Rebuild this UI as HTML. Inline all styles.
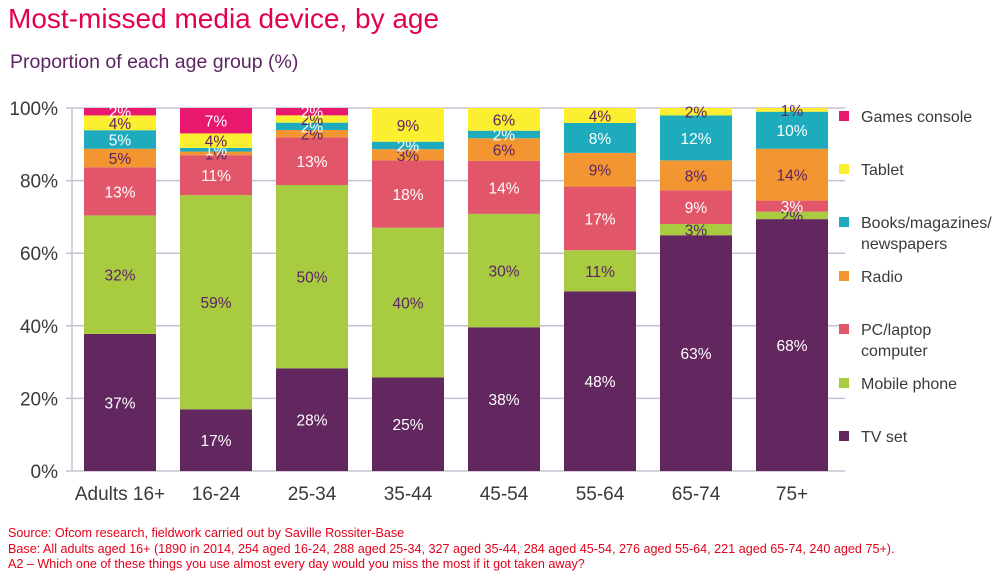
<!DOCTYPE html>
<html><head><meta charset="utf-8"><style>
body{margin:0;background:#fff;font-family:"Liberation Sans",sans-serif}
#w{position:relative;width:1000px;height:580px;overflow:hidden}
.t{position:absolute;white-space:nowrap}
</style></head><body>
<div id="w">
<div class="t" style="left:8px;top:3px;font-size:28px;color:#e3004f">Most-missed media device, by age</div>
<div class="t" style="left:10px;top:51px;font-size:19.5px;color:#5c2462">Proportion of each age group (%)</div>
<svg id="c" width="1000" height="580" style="position:absolute;left:0;top:0"></svg>
<div class="t" style="left:8px;top:526px;font-size:12.6px;color:#e3001b;line-height:15.5px">Source: Ofcom research, fieldwork carried out by Saville Rossiter-Base<br>Base: All adults aged 16+ (1890 in 2014, 254 aged 16-24, 288 aged 25-34, 327 aged 35-44, 284 aged 45-54, 276 aged 55-64, 221 aged 65-74, 240 aged 75+).<br>A2 – Which one of these things you use almost every day would you miss the most if it got taken away?</div>
</div>
<script>
const categories=["Adults 16+","16-24","25-34","35-44","45-54","55-64","65-74","75+"];
const seriesNames=["TV set","Mobile phone","PC/laptop computer","Radio","Books/magazines/newspapers","Tablet","Games console"];
const tv=[37,17,28,25,38,48,63,68];
const mobile=[32,59,50,40,30,11,3,2];
const pc=[13,11,13,18,14,17,9,3];
const radio=[5,1,2,3,6,9,8,14];
const books=[5,1,2,2,2,8,12,10];
const tablet=[4,4,2,9,6,4,2,1];
const games=[2,7,2,0,0,0,0,0];
const yTicks=[0,20,40,60,80,100];
const series=[tv,mobile,pc,radio,books,tablet,games];
const colors=["#62275f","#a8cb40","#e2566a","#f39530","#1eabbd","#fcee30","#e8186f"];
const txtCol=["#fff","#5c2462","#fff","#5c2462","#fff","#5c2462","#fff"];
const svg=document.getElementById('c');const NS="http://www.w3.org/2000/svg";
const y0=471,y1=108,xL=72,xR=845,step=96,bw=72,x0=120;
const Y=v=>y0-(v/100)*(y0-y1);
const X=i=>x0+i*step;
function mk(t,a){const e=document.createElementNS(NS,t);for(const k in a)e.setAttribute(k,a[k]);svg.appendChild(e);return e;}
yTicks.forEach(v=>{
 const l=mk('line',{x1:xL-6,x2:xR,y1:Y(v),y2:Y(v),stroke:'#c9bfd0','stroke-width':1.5});
 
 
 const t=mk('text',{x:58,y:Y(v)+7,'text-anchor':'end','font-size':19,fill:'#3a3a3a'});t.textContent=v+'%';
 
 
});
const ax=mk('line',{x1:xL,x2:xL,y1:y1,y2:y0,stroke:'#c9bfd0','stroke-width':1.5});


categories.forEach((c,i)=>{
 let tot=0;series.forEach(s=>tot+=s[i]);
 let acc=0;
 series.forEach((s,k)=>{
  const v=s[i];if(!v)return;
  const a=acc/tot*100,b=(acc+v)/tot*100;acc+=v;
  const r=mk('rect',{x:X(i)-bw/2,y:Y(b),width:bw,height:Y(a)-Y(b),fill:colors[k]});
  
  
  const t=mk('text',{x:X(i),y:(Y(a)+Y(b))/2+6,'text-anchor':'middle','font-size':15.5,fill:txtCol[k]});
  t.textContent=v+'%';
  
  
 });
 const t=mk('text',{x:X(i),y:500,'text-anchor':'middle','font-size':19,fill:'#3a3a3a'});t.textContent=c;
 
 
});
const leg=[["Games console"],["Tablet"],["Books/magazines/","newspapers"],["Radio"],["PC/laptop","computer"],["Mobile phone"],["TV set"]];
const legY=[116,169,222,276,329,383,436];
leg.forEach((L,j)=>{
 const k=6-j;
 const r=mk('rect',{x:839,y:legY[j]-5,width:10,height:10,fill:colors[k]});
 
 
 L.forEach((s,m)=>{const t=mk('text',{x:861,y:legY[j]+6+m*21,'font-size':16,fill:'#3a3a3a'});t.textContent=s;
 
 });
});
</script>
</body></html>
